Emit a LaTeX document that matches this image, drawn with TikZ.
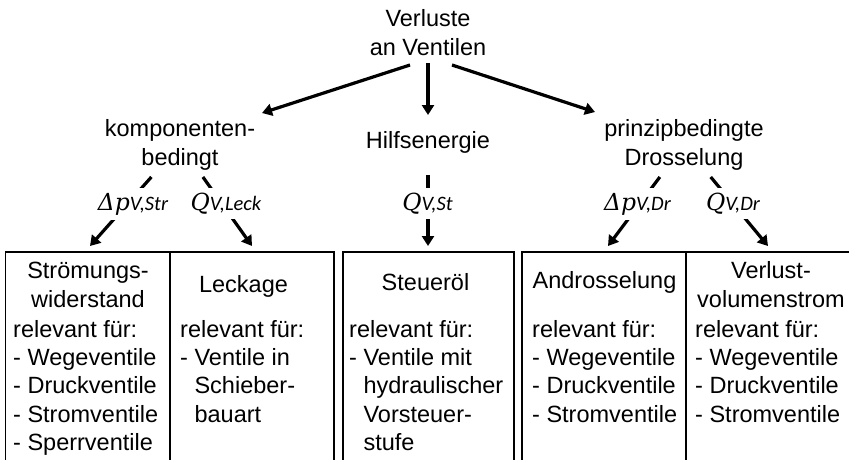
\documentclass[tikz,border=0pt]{standalone}
\usepackage{fontspec}
\setmainfont{Liberation Sans}
\newfontfamily\lblfont{DejaVu Serif}
\newfontfamily\subfont{Carlito}
\usetikzlibrary{arrows.meta}
\newcommand{\mlbl}[2]{{\lblfont\itshape #1}{\subfont\itshape\fontsize{20.5}{20.5}\selectfont #2}}
\begin{document}
\begin{tikzpicture}[x=1pt,y=-1pt,
  txt/.style={font=\fontsize{23.5}{28.3}\selectfont, inner sep=0pt, anchor=base},
  hdr/.style={txt, align=center},
  bodytxt/.style={font=\fontsize{23.5}{28.3}\selectfont, inner sep=0pt, anchor=base west, align=left},
  lvl/.style={txt, align=center, minimum height=64pt},
  lbl/.style={font=\fontsize{23.5}{24}\selectfont, fill=white, inner sep=5pt, anchor=base},
  arr/.style={line width=3.2pt, -{Triangle[length=10pt,width=12pt]}},
  boxline/.style={line width=1.8pt}]
\useasboundingbox (0,0) rectangle (849,459);

% boxes (open at the bottom)
\draw[boxline] (5.5,461) -- (5.5,252) -- (334,252) -- (334,461);
\draw[boxline] (170,252) -- (170,461);
\draw[boxline] (343,461) -- (343,252) -- (514,252) -- (514,461);
\draw[boxline] (522,461) -- (522,252) -- (851,252);
\draw[boxline] (686,252) -- (686,461);

% top and second level (anchor base = baseline of the last line)
\node[hdr] (top) at (428,55) {Verluste\\an Ventilen};
\node[lvl] (komp) at (180,165) {komponenten-\\bedingt};
\node[txt, minimum height=66pt] (hilf) at (428,148) {Hilfsenergie};
\node[lvl] (prinz) at (684,165) {prinzipbedingte\\Drosselung};

% box texts
\node[hdr] (hStr) at (88,307) {Strömungs-\\widerstand};
\node[bodytxt] (bStr) at (13,450.5) {relevant für:\\- Wegeventile\\- Druckventile\\- Stromventile\\- Sperrventile};
\node[hdr] (hLeck) at (243.5,292) {Leckage};
\node[bodytxt] (bLeck) at (180,422) {relevant für:\\- Ventile in\\\hphantom{-~}Schieber-\\\hphantom{-~}bauart};
\node[hdr] (hSt) at (425.5,290) {Steueröl};
\node[bodytxt] (bSt) at (349,450.5) {relevant für:\\- Ventile mit\\\hphantom{-~}hydraulischer\\\hphantom{-~}Vorsteuer-\\\hphantom{-~}stufe};
\node[hdr] (hAn) at (604.5,288) {Androsselung};
\node[bodytxt] (bAn) at (532,422) {relevant für:\\- Wegeventile\\- Druckventile\\- Stromventile};
\node[hdr] (hVv) at (771,307) {Verlust-\\volumenstrom};
\node[bodytxt] (bVv) at (695,422) {relevant für:\\- Wegeventile\\- Druckventile\\- Stromventile};

% arrow end points
\coordinate (sk) at (410,65);
\coordinate (sh) at (428,63);
\coordinate (sp) at (452,65);
\coordinate (tk) at (262,113);
\coordinate (th) at (428,115);
\coordinate (tp) at (595,112);
\coordinate (t1) at (90,246);
\coordinate (t2) at (252,246);
\coordinate (t3) at (428,246);
\coordinate (t4) at (608,246);
\coordinate (t5) at (768,246);

\draw[arr] (sk) -- (tk);
\draw[arr] (sh) -- (th);
\draw[arr] (sp) -- (tp);
\draw[arr] (komp) -- (t1);
\draw[arr] (komp) -- (t2);
\draw[arr] (hilf) -- (t3);
\draw[arr] (prinz) -- (t4);
\draw[arr] (prinz) -- (t5);

% labels over the connectors
\node[lbl] (dpStr) at (133,210) {\mlbl{Δp}{V,Str}};
\node[lbl] (qLeck) at (226,210) {\mlbl{Q}{V,Leck}};
\node[lbl] (qSt) at (427.5,210) {\mlbl{Q}{V,St}};
\node[lbl] (dpDr) at (637.5,210) {\mlbl{Δp}{V,Dr}};
\node[lbl] (qDr) at (733,210) {\mlbl{Q}{V,Dr}};
\end{tikzpicture}
\end{document}
